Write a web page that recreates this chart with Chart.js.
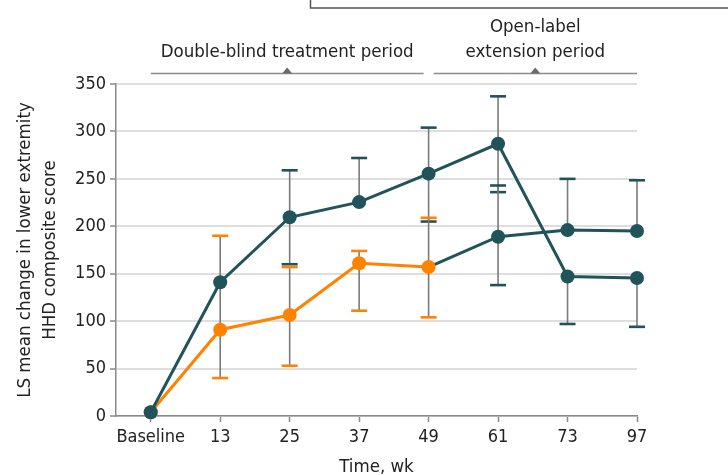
<!DOCTYPE html>
<html>
<head>
<meta charset="utf-8">
<script src="https://cdn.jsdelivr.net/npm/chart.js@4.4.1/dist/chart.umd.min.js"></script>
<style>
  html, body { margin: 0; padding: 0; background: #ffffff; }
  #wrap { position: relative; width: 728px; height: 475px; }
  canvas { display: block; }
</style>
</head>
<body>
<div id="wrap"><canvas id="chart" width="728" height="475"></canvas></div>
<script>
// Time points (weeks) and y tick values
const weekLabels = ['Baseline', '13', '25', '37', '49', '61', '73', '97'];
const yTickValues = [0, 50, 100, 150, 200, 250, 300, 350];

// Group treated from the start: LS mean and error bar ends (null = no cap)
const earlyMean = [4, 141, 209.5, 225.5, 255.5, 287, 147, 145.5];
const earlyLow  = [null, null, 160, null, 205, 236, 97, 94];
const earlyHigh = [null, null, 259, 272, 304, 337, null, null];

// Group on placebo through week 49, then switched to treatment
const switchMean = [4, 91, 106.5, 161, 157, 189, 196, 195];
const switchLow  = [null, 40, 53, 111, 104, 138, null, null];
const switchHigh = [null, 190, 157, 174, 209, 243, 250, 248.5];

// Study periods shown above the plot (x in time-point index units)
const periodLabels = [['Double-blind treatment period'], ['Open-label', 'extension period']];
const periodSpans = [[0, 4], [4, 7]];
const switchIndex = 4;

const TEAL = '#21535a';
const ORANGE = '#ff8200';
const STEM = '#7a7a7a';
const AXIS = '#8a8a8a';
const TEXT = '#222222';
const FONT = "'DejaVu Sans Condensed', 'Liberation Sans Narrow', 'DejaVu Sans', sans-serif";

const switchPointColors = switchMean.map((_, i) => (i <= switchIndex ? ORANGE : TEAL));

// Error bars (under the lines and markers) plus the period brackets
const errorBars = {
  id: 'errorBars',
  beforeDatasetsDraw(chart) {
    const { ctx, scales: { x, y } } = chart;
    const groups = [
      { mean: earlyMean, low: earlyLow, high: earlyHigh, cap: () => TEAL },
      { mean: switchMean, low: switchLow, high: switchHigh, cap: i => switchPointColors[i] }
    ];
    ctx.save();
    groups.forEach(g => {
      g.mean.forEach((m, i) => {
        const lo = g.low[i], hi = g.high[i];
        if (lo === null && hi === null) return;
        const px = x.getPixelForValue(i);
        const yTop = y.getPixelForValue(hi === null ? m : hi);
        const yBot = y.getPixelForValue(lo === null ? m : lo);
        ctx.strokeStyle = STEM;
        ctx.lineWidth = 1.6;
        ctx.beginPath();
        ctx.moveTo(px, yTop);
        ctx.lineTo(px, yBot);
        ctx.stroke();
        ctx.strokeStyle = g.cap(i);
        ctx.lineWidth = 2.6;
        [lo, hi].forEach(v => {
          if (v === null) return;
          const py = y.getPixelForValue(v);
          ctx.beginPath();
          ctx.moveTo(px - 8, py);
          ctx.lineTo(px + 8, py);
          ctx.stroke();
        });
      });
    });
    ctx.restore();
  },
  afterDraw(chart) {
    const { ctx, scales: { x } } = chart;
    ctx.save();
    // bottom edge of the boxed panel above the chart
    ctx.strokeStyle = '#555555';
    ctx.lineWidth = 1.5;
    ctx.strokeRect(310.5, -10, 440, 18);

    periodSpans.forEach((span, k) => {
      let x0 = x.getPixelForValue(span[0]);
      let x1 = x.getPixelForValue(span[1]);
      if (k === 0) x1 -= 5; else x0 += 5;
      const lineY = 73.5;
      const cx = (x0 + x1) / 2;
      ctx.strokeStyle = '#8c8c8c';
      ctx.lineWidth = 1.5;
      ctx.beginPath();
      ctx.moveTo(x0, lineY);
      ctx.lineTo(x1, lineY);
      ctx.stroke();
      ctx.fillStyle = '#6a6a6a';
      ctx.beginPath();
      ctx.moveTo(cx - 5, lineY);
      ctx.lineTo(cx + 5, lineY);
      ctx.lineTo(cx, lineY - 6);
      ctx.closePath();
      ctx.fill();
      ctx.fillStyle = TEXT;
      ctx.font = '18.5px ' + FONT;
      ctx.textAlign = 'center';
      ctx.textBaseline = 'alphabetic';
      const lines = periodLabels[k];
      lines.forEach((t, j) => {
        ctx.fillText(t, cx, 57 - (lines.length - 1 - j) * 25);
      });
    });
    ctx.restore();
  }
};

new Chart(document.getElementById('chart'), {
  type: 'line',
  data: {
    datasets: [
      {
        label: 'Treated from baseline',
        data: earlyMean.map((v, i) => ({ x: i, y: v })),
        borderColor: TEAL,
        backgroundColor: TEAL,
        pointBackgroundColor: TEAL,
        pointBorderColor: TEAL,
        borderWidth: 3,
        pointRadius: 7,
        pointBorderWidth: 0,
        tension: 0,
        clip: false
      },
      {
        label: 'Placebo, then treated',
        data: switchMean.map((v, i) => ({ x: i, y: v })),
        borderColor: ORANGE,
        backgroundColor: ORANGE,
        pointBackgroundColor: switchPointColors,
        pointBorderColor: switchPointColors,
        borderWidth: 3,
        pointRadius: 7,
        pointBorderWidth: 0,
        tension: 0,
        clip: false,
        segment: {
          borderColor: c => (c.p0DataIndex >= switchIndex ? TEAL : ORANGE)
        }
      }
    ]
  },
  options: {
    responsive: false,
    maintainAspectRatio: false,
    animation: false,
    devicePixelRatio: 1,
    layout: { padding: { top: 84, right: 91, bottom: 0, left: 0 } },
    plugins: { legend: { display: false }, tooltip: { enabled: false } },
    scales: {
      x: {
        type: 'linear',
        min: -0.5,
        max: 7,
        afterBuildTicks: s => { s.ticks = weekLabels.map((_, i) => ({ value: i })); },
        afterFit: s => { s.height = 59; },
        grid: { drawOnChartArea: false, drawTicks: true, tickLength: 6, tickColor: AXIS, tickWidth: 1.5 },
        border: { display: true, color: AXIS, width: 1.5 },
        ticks: {
          autoSkip: false,
          maxRotation: 0,
          padding: 5,
          color: TEXT,
          font: { family: FONT, size: 18 },
          callback: v => weekLabels[v] ?? ''
        },
        title: {
          display: true,
          text: 'Time, wk',
          color: TEXT,
          font: { family: FONT, size: 18.5 },
          padding: { top: 0, bottom: -3 }
        }
      },
      y: {
        min: 0,
        max: 350,
        afterBuildTicks: s => { s.ticks = yTickValues.map(v => ({ value: v })); },
        afterFit: s => { s.width = 116; },
        grid: { color: '#dedede', lineWidth: 2, drawTicks: true, tickLength: 6, tickColor: AXIS, tickWidth: 1.5 },
        border: { display: true, color: AXIS, width: 1.5 },
        ticks: {
          padding: 4,
          color: TEXT,
          font: { family: FONT, size: 18 }
        },
        title: {
          display: true,
          text: ['LS mean change in lower extremity', 'HHD composite score'],
          color: TEXT,
          font: { family: FONT, size: 18.5, lineHeight: 1.35 },
          padding: { top: 13, bottom: 0 }
        }
      }
    }
  },
  plugins: [errorBars]
});
</script>
</body>
</html>
